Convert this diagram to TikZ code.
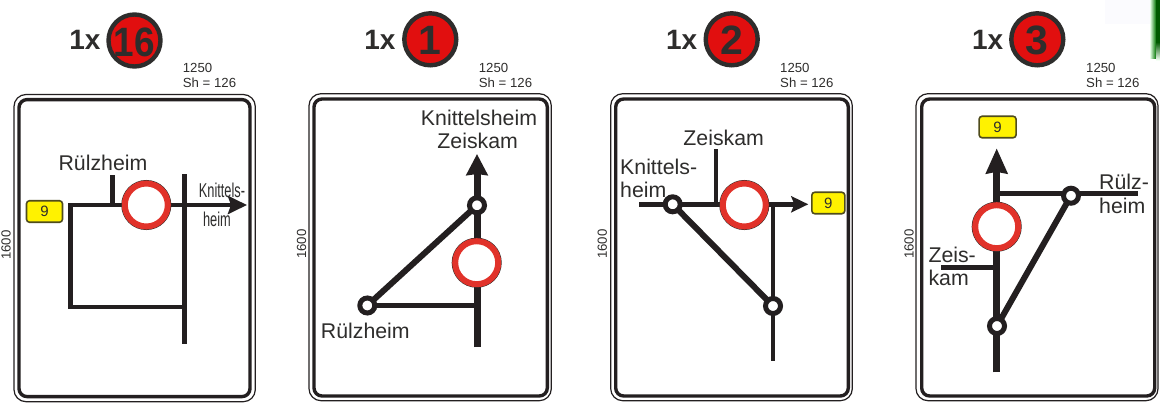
\documentclass[tikz,border=0pt]{standalone}
\usepackage{fontspec}
\setmainfont{Liberation Sans}
\usetikzlibrary{arrows.meta}
\definecolor{ink}{HTML}{231F20}
\definecolor{txt}{HTML}{2E2D2C}
\definecolor{ringred}{HTML}{E1322A}
\definecolor{badgered}{HTML}{E10F0F}
\definecolor{shieldy}{HTML}{FFF200}
\definecolor{shieldb}{HTML}{4F4C1C}
\definecolor{palestripe}{HTML}{FBFBFE}
\pgfdeclarelayer{plates}
\pgfdeclarelayer{lines}
\pgfsetlayers{plates,lines,main}
\tikzset{
  x=1pt,y=-1pt,
  signouter/.style={draw=ink,line width=1.2pt,rounded corners=12pt,inner sep=0,outer sep=0,fill=white},
  signinner/.style={draw=ink,line width=3.4pt,rounded corners=8pt,inner sep=0,outer sep=0},
  badge/.style={circle,draw=txt,line width=4.4pt,fill=badgered,minimum size=52pt,inner sep=0,outer sep=0},
  badgetxt/.style={inner sep=0,font=\fontsize{41}{41}\selectfont\bfseries,text=txt},
  count/.style={inner sep=0,font=\fontsize{28}{28}\selectfont\bfseries,text=txt},
  dim/.style={inner sep=0,anchor=west,font=\fontsize{13.2}{13.2}\selectfont,text=txt},
  dimv/.style={inner sep=0,rotate=90,font=\fontsize{13.2}{13.2}\selectfont,text=txt},
  place/.style={inner sep=0,font=\fontsize{21.3}{21.3}\selectfont,text=txt},
  placel/.style={place,anchor=west},
  narrow/.style={inner sep=0,font=\fontsize{20}{20}\selectfont,text=txt,xscale=.64,transform shape},
  ringsign/.style={circle,draw=ringred,line width=6pt,fill=white,minimum size=43pt,inner sep=0,outer sep=0,
    preaction={draw=txt,line width=7pt}},
  junction/.style={circle,draw=ink,line width=5pt,fill=white,minimum size=15pt,inner sep=0,outer sep=0},
  shield/.style={draw=shieldb,line width=1.6pt,fill=shieldy,rounded corners=3pt,inner sep=0,outer sep=0,
    font=\fontsize{15}{15}\selectfont,text=txt},
  road/.style={draw=ink,line width=4.6pt,line join=miter},
  mainroad/.style={draw=ink,line width=7pt},
  diag/.style={draw=ink,line width=6pt},
  headA/.style={-{Stealth[length=19pt,width=18pt,inset=3pt]}},
  headB/.style={-{Stealth[length=21pt,width=21pt,inset=1pt]}},
  headC/.style={-{Stealth[length=17pt,width=16pt,inset=3pt]}},
  headD/.style={-{Stealth[length=25pt,width=21pt,inset=1.5pt]}},
}
\begin{document}
\begin{tikzpicture}
\useasboundingbox (0,0) rectangle (1160,405);
% stray edge of the neighbouring image in the source
\fill[palestripe] (1105,0) rectangle (1150,24);
\fill[left color=green!10!white,right color=green!45!black] (1150,0) rectangle (1156,58);
\fill[green!35!black] (1156,0) rectangle (1160,42);
\fill[top color=green!35!black,bottom color=green!4!white] (1156,42) rectangle (1160,60);

% ---------- sign 16
\node[count] (n1) at (85,40) {1x};
\node[badge] (b1) at (134.5,40.5) {};
\node[badgetxt,xscale=.9] (bt1) at (134.5,42) {16};
\node[dim] (w1) at (182.7,68) {1250};
\node[dim] (s1) at (182.7,83) {Sh = 126};
\node[dimv] (h1) at (6,245) {1600};
\begin{pgfonlayer}{plates}
\node[signouter,minimum width=241.3pt,minimum height=307.2pt] (o1) at (134.65,248.1) {};
\node[signinner,minimum width=231pt,minimum height=297pt] (i1) at (134.5,248.1) {};
\end{pgfonlayer}
\node[place] (t1a) at (103,163) {Rülzheim};
\node[narrow] (t1b) at (222,190) {Knittels-};
\node[narrow] (t1c) at (217,219) {heim};
\node[shield,minimum width=36pt,minimum height=21.5pt] (y1) at (44.5,211.5) {9};
\node[ringsign] (r1) at (146.3,205) {};
\coordinate (c1a) at (70.7,205);
\coordinate (c1b) at (70.7,307);
\coordinate (c1c) at (184.7,307);
\coordinate (c1d) at (184.7,174);
\coordinate (c1e) at (184.7,344);
\coordinate (c1f) at (112.7,175);
\coordinate (c1g) at (112.7,205);
\coordinate (c1h) at (247,205);

% ---------- sign 1
\node[count] (n2) at (380,39.7) {1x};
\node[badge] (b2) at (430.3,39.3) {};
\node[badgetxt] (bt2) at (430.3,40.5) {1};
\node[dim] (w2) at (478.7,67.7) {1250};
\node[dim] (s2) at (478.7,82.7) {Sh = 126};
\node[dimv] (h2) at (301.7,244) {1600};
\begin{pgfonlayer}{plates}
\node[signouter,minimum width=242.3pt,minimum height=307pt] (o2) at (430.15,247.2) {};
\node[signinner,minimum width=233.3pt,minimum height=297pt] (i2) at (430.65,247.5) {};
\end{pgfonlayer}
\node[place] (t2a) at (479,117.7) {Knittelsheim};
\node[place] (t2b) at (477.7,140.7) {Zeiskam};
\node[place] (t2c) at (365.3,331) {Rülzheim};
\node[ringsign] (r2) at (476.7,262.7) {};
\node[junction] (j2a) at (477,205.3) {};
\node[junction] (j2b) at (367.3,305.5) {};
\coordinate (c2a) at (477,347);
\coordinate (c2b) at (477,154);
\coordinate (c2c) at (477,305.5);

% ---------- sign 2
\node[count] (n3) at (681.7,39.7) {1x};
\node[badge] (b3) at (731.7,39.3) {};
\node[badgetxt] (bt3) at (731.7,40.5) {2};
\node[dim] (w3) at (780,67.7) {1250};
\node[dim] (s3) at (780,82.7) {Sh = 126};
\node[dimv] (h3) at (602.3,244) {1600};
\begin{pgfonlayer}{plates}
\node[signouter,minimum width=241.6pt,minimum height=307pt] (o3) at (731.5,247.2) {};
\node[signinner,minimum width=232.6pt,minimum height=297pt] (i3) at (732,247.5) {};
\end{pgfonlayer}
\node[place] (t3a) at (723.7,138) {Zeiskam};
\node[placel] (t3b) at (620,166.7) {Knittels-};
\node[placel] (t3c) at (620,190) {heim};
\node[ringsign] (r3) at (744.3,205) {};
\node[junction] (j3a) at (672.7,204.3) {};
\node[junction] (j3b) at (773,306) {};
\node[shield,minimum width=33pt,minimum height=21.5pt] (y3) at (828.3,203) {9};
\coordinate (c3a) at (639.3,204.3);
\coordinate (c3b) at (808.3,204.3);
\coordinate (c3c) at (716,149.3);
\coordinate (c3d) at (716,204.3);
\coordinate (c3e) at (773,204.3);
\coordinate (c3f) at (773,361);

% ---------- sign 3
\node[count] (n4) at (987.7,39.7) {1x};
\node[badge] (b4) at (1037.3,39.3) {};
\node[badgetxt] (bt4) at (1037.3,40.5) {3};
\node[dim] (w4) at (1086,67.7) {1250};
\node[dim] (s4) at (1086,82.7) {Sh = 126};
\node[dimv] (h4) at (909,244) {1600};
\begin{pgfonlayer}{plates}
\node[signouter,minimum width=242pt,minimum height=307pt] (o4) at (1037,247.2) {};
\node[signinner,minimum width=233pt,minimum height=297pt] (i4) at (1038.2,247.5) {};
\end{pgfonlayer}
\node[shield,minimum width=37pt,minimum height=21.5pt] (y4) at (997.6,127) {9};
\node[placel] (t4a) at (1099,181.7) {Rülz-};
\node[placel] (t4b) at (1099,206) {heim};
\node[placel] (t4c) at (928.3,255) {Zeis-};
\node[placel] (t4d) at (928.3,278.3) {kam};
\node[ringsign] (r4) at (996.7,226.7) {};
\node[junction] (j4a) at (1071,195.7) {};
\node[junction] (j4b) at (997,326) {};
\coordinate (c4a) at (996.7,372.3);
\coordinate (c4b) at (996.7,148.3);
\coordinate (c4c) at (996.7,193.7);
\coordinate (c4d) at (1137.7,193.7);
\coordinate (c4e) at (941,267.3);
\coordinate (c4f) at (996.7,267.3);

% ---------- connectors, below the rings and junctions
\begin{pgfonlayer}{lines}
\draw[road] (c1c) -- (c1b) -- (c1a) -- (r1.center);
\draw[road,headA] (r1.center) -- (c1h);
\draw[road] (c1d) -- (c1e);
\draw[road] (c1f) -- (c1g);
\draw[mainroad,headB] (c2a) -- (c2b);
\draw[diag] (j2b) -- (j2a);
\draw[road] (j2b) -- (c2c);
\draw[road,headC] (j3a.center) -- (c3b);
\draw[road] (c3a) -- (j3a);
\draw[road] (c3c) -- (c3d);
\draw[road] (c3e) -- (c3f);
\draw[diag] (j3a) -- (j3b);
\draw[mainroad,headD] (c4a) -- (c4b);
\draw[road] (c4c) -- (c4d);
\draw[road] (c4e) -- (c4f);
\draw[diag] (j4b) -- (j4a);
\end{pgfonlayer}
\end{tikzpicture}
\end{document}
